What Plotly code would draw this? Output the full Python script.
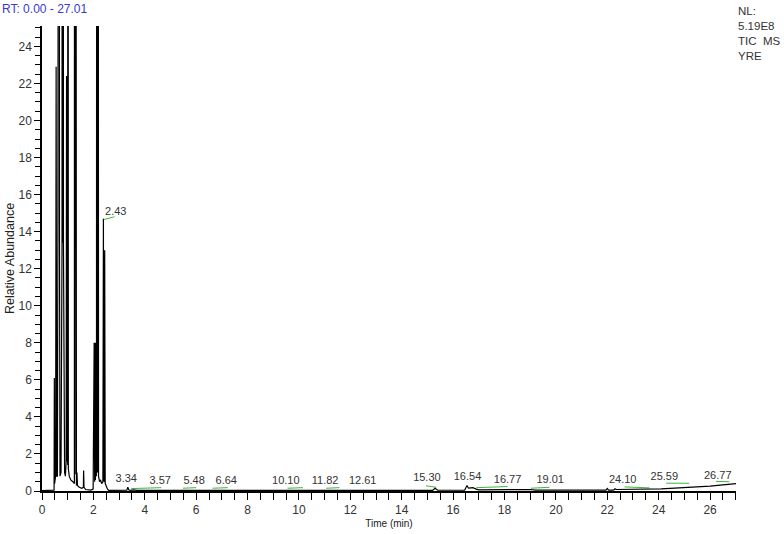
import plotly.graph_objects as go

# ---- chromatogram trace (time in min, relative abundance) ----
time_min = [
    0.00, 0.40, 0.47, 0.48, 0.49, 0.50, 0.51, 0.53, 0.55, 0.57, 0.60,
    0.62, 0.63, 0.645, 0.66, 0.68, 0.70, 0.74, 0.78, 0.79, 0.805, 0.82,
    0.835, 0.85, 0.88, 0.91, 0.94, 0.955, 0.97, 0.985, 1.00, 1.01, 1.025,
    1.06, 1.12, 1.20, 1.26, 1.27, 1.285, 1.30, 1.315, 1.34, 1.36, 1.38,
    1.45, 1.55, 1.61, 1.62, 1.635, 1.70, 1.90, 1.99, 2.00, 2.02, 2.03,
    2.05, 2.06, 2.08, 2.10, 2.12, 2.14, 2.16, 2.18, 2.20, 2.24, 2.28,
    2.32, 2.37, 2.39, 2.405, 2.415, 2.43, 2.44, 2.46, 2.50, 2.55, 2.60,
    3.00, 3.30, 3.34, 3.38, 3.45, 3.57, 3.70, 5.00, 5.48, 5.60, 6.64,
    6.80, 10.10, 10.30, 11.82, 12.00, 12.61, 12.80, 15.20, 15.30, 15.40,
    16.45, 16.54, 16.60, 16.77, 16.90, 17.00, 19.01, 19.20, 21.95, 22.00,
    22.05, 22.25, 22.30, 22.35, 24.10, 24.50, 25.59, 26.00, 26.50, 26.77,
    27.01,
]
abundance = [
    0.02, 0.02, 0.05, 6.1, 0.4, 6.1, 0.6, 0.8, 22.9, 0.8, 0.8,
    14.5, 100, 14.5, 100, 14.5, 0.8, 1.0, 13.4, 100, 13.4, 100,
    13.4, 2.6, 1.0, 0.8, 1.6, 22.4, 1.6, 22.4, 1.4, 100, 1.2,
    0.8, 0.6, 0.5, 0.4, 100, 0.9, 100, 0.9, 0.3, 1.0, 0.3,
    0.2, 0.15, 0.2, 1.1, 0.2, 0.08, 0.05, 0.1, 2.3, 0.3, 8.0,
    0.5, 8.0, 0.6, 8.0, 0.8, 100, 1.0, 100, 0.8, 0.5, 0.6,
    0.4, 0.5, 14.7, 0.6, 13.0, 0.5, 13.0, 0.4, 0.25, 0.1, 0.03,
    0.03, 0.04, 0.2, 0.05, 0.03, 0.06, 0.03, 0.03, 0.06, 0.03, 0.06,
    0.03, 0.06, 0.03, 0.06, 0.03, 0.05, 0.03, 0.03, 0.15, 0.04,
    0.04, 0.3, 0.15, 0.18, 0.1, 0.06, 0.08, 0.05, 0.05, 0.14,
    0.05, 0.05, 0.12, 0.08, 0.12, 0.15, 0.22, 0.26, 0.33, 0.38,
    0.40,
]

# ---- peak labels ----
peak_labels = ["2.43", "3.34", "3.57", "5.48", "6.64", "10.10", "11.82", "12.61",
               "15.30", "16.54", "16.77", "19.01", "24.10", "25.59", "26.77"]
label_x = [2.87, 3.28, 4.60, 5.92, 7.17, 9.49, 11.02, 12.48,
           14.98, 16.56, 18.12, 19.78, 22.60, 24.22, 26.30]
label_y = [15.05, 0.66, 0.52, 0.52, 0.52, 0.52, 0.52, 0.52,
           0.68, 0.74, 0.58, 0.58, 0.58, 0.72, 0.80]

# ---- green label leaders ----
green_x0 = [2.40, 3.47, 5.48, 6.64, 9.56, 11.06, 14.95, 16.90, 19.03, 22.67, 24.29, 26.23]
green_x1 = [2.82, 4.64, 6.00, 7.23, 10.15, 11.58, 15.34, 18.12, 19.75, 23.64, 25.19, 26.75]
green_y0 = [14.65, 0.13, 0.15, 0.15, 0.15, 0.15, 0.28, 0.18, 0.15, 0.22, 0.42, 0.52]
green_y1 = [14.80, 0.18, 0.18, 0.18, 0.18, 0.18, 0.20, 0.24, 0.20, 0.17, 0.42, 0.50]

x_ticks = list(range(0, 27, 2))
y_ticks = list(range(0, 25, 2))

fig = go.Figure()

gx, gy = [], []
for a, b, c, d in zip(green_x0, green_x1, green_y0, green_y1):
    gx += [a, b, None]
    gy += [c, d, None]
fig.add_trace(go.Scatter(x=gx, y=gy, mode="lines",
                         line=dict(color="#3cb83c", width=1), hoverinfo="skip"))

fig.add_trace(go.Scatter(x=time_min, y=abundance, mode="lines",
                         line=dict(color="black", width=1.2), hoverinfo="skip"))

fig.add_trace(go.Scatter(x=label_x, y=label_y, mode="text", text=peak_labels,
                         textposition="middle center",
                         textfont=dict(family="Liberation Sans, Arial", size=11, color="#333333"),
                         hoverinfo="skip", cliponaxis=False))

tick_font = dict(family="Liberation Sans, Arial", size=12, color="#333333")

fig.update_layout(
    width=784, height=534,
    margin=dict(l=42, r=48, t=26, b=43),
    paper_bgcolor="white", plot_bgcolor="white",
    showlegend=False,
    font=tick_font,
    xaxis=dict(
        range=[0, 27.01], tickvals=x_ticks, ticktext=[str(v) for v in x_ticks],
        automargin=False,
        showgrid=False, zeroline=False, showline=True, linecolor="black", linewidth=1.5,
        ticks="outside", ticklen=7, tickcolor="black", tickwidth=1,
        minor=dict(dtick=0.5, ticks="outside", ticklen=7, tickcolor="black", tickwidth=1),
        tickfont=tick_font,
        title=dict(text="Time (min)", font=dict(family="Liberation Sans, Arial", size=10, color="#222"),
                   standoff=4),
    ),
    yaxis=dict(
        range=[0, 25.1], tickvals=y_ticks, ticktext=[str(v) for v in y_ticks],
        automargin=False,
        showgrid=False, zeroline=False, showline=True, linecolor="black", linewidth=1.5,
        ticks="outside", ticklen=6, tickcolor="black", tickwidth=1,
        minor=dict(dtick=0.5, ticks="outside", ticklen=5, tickcolor="black", tickwidth=1),
        tickfont=tick_font,
        title=dict(text="Relative Abundance", font=dict(family="Liberation Sans, Arial", size=12.5, color="#222"),
                   standoff=1),
    ),
    annotations=[
        dict(text="RT: 0.00 - 27.01", xref="paper", yref="paper", x=-42/694, y=1 + 26/465,
             xanchor="left", yanchor="top", showarrow=False,
             font=dict(family="Liberation Sans, Arial", size=12, color="#3a3acc")),
        dict(text="NL:<br>5.19E8<br>TIC&nbsp;&nbsp;MS<br>YRE", xref="paper", yref="paper",
             x=1, y=1 + 23/465, xanchor="left", yanchor="top", align="left",
             showarrow=False,
             font=dict(family="Liberation Sans, Arial", size=11.5, color="#333333")),
    ],
)

fig.write_html("out.html", config={"displayModeBar": False},
               post_script="document.body.style.margin='0';")
